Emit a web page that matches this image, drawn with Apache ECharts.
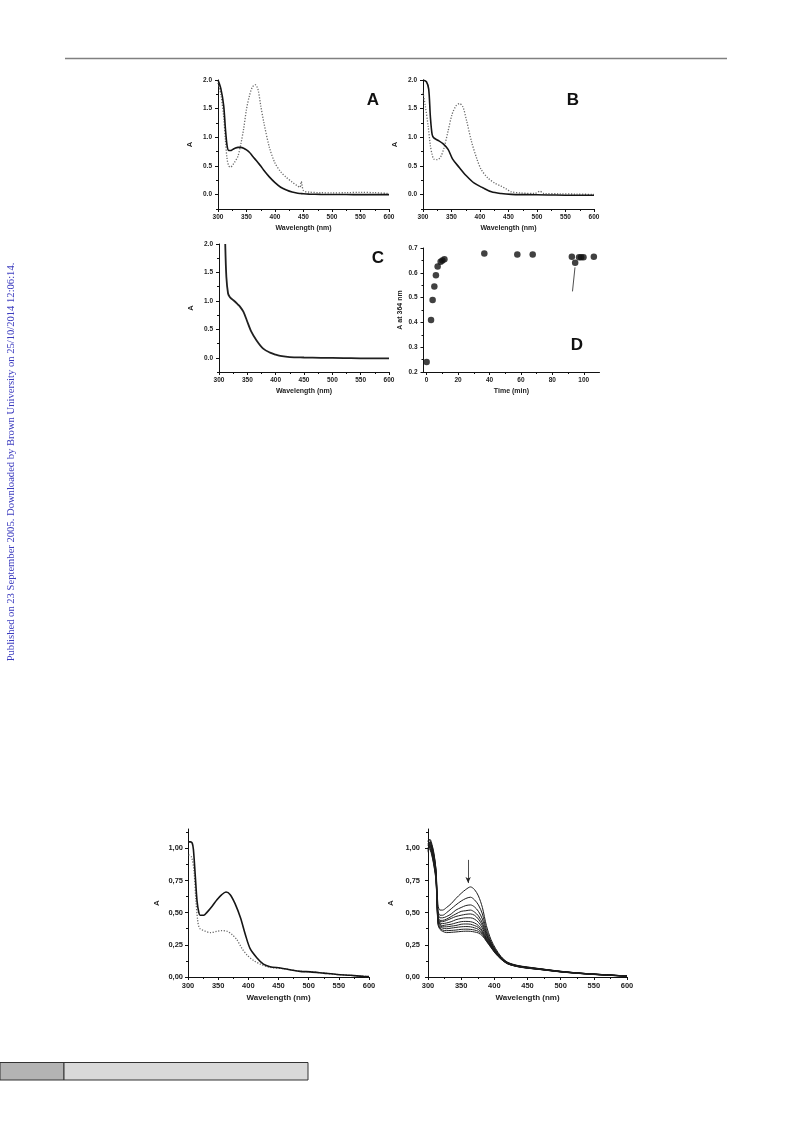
<!DOCTYPE html>
<html>
<head>
<meta charset="utf-8">
<script src="https://cdn.jsdelivr.net/npm/echarts@6/dist/echarts.min.js"></script>
<style>
html,body{margin:0;padding:0;background:#fff;}
#c{width:793px;height:1123px;}
</style>
</head>
<body>
<div id="c"></div>
<script>
// ---------- DATA ----------
// Panel A
const wlA = [300,305,310,313,316,319,322,326,330,335,340,345,350,355,360,365,370,375,380,390,400,410,420,430,440,445,450,460,480,500,525,550,575,600];
const aSolid = [2.00,1.85,1.55,1.15,0.85,0.77,0.77,0.79,0.81,0.825,0.825,0.81,0.78,0.74,0.68,0.62,0.56,0.50,0.43,0.31,0.21,0.13,0.08,0.045,0.025,0.02,0.015,0.01,0.005,0.003,0.002,0.0,0.0,0.0];
const wlAd = [300,305,310,313,316,319,322,326,330,335,340,345,350,355,360,365,370,375,380,390,400,410,420,430,440,444,446,450,460,480,500,525,550,575,600];
const aDotted = [1.95,1.75,1.35,0.95,0.62,0.50,0.48,0.52,0.58,0.67,0.88,1.15,1.49,1.72,1.87,1.92,1.84,1.55,1.28,0.83,0.55,0.40,0.30,0.22,0.15,0.13,0.23,0.07,0.045,0.035,0.03,0.035,0.04,0.035,0.02];
// Panel B
const wlB = [300,306,310,313,316,319,326,335,344,352,364,376,390,405,420,437,455,480,520,560,600];
const bSolid = [2.0,1.97,1.84,1.35,1.05,0.99,0.95,0.89,0.79,0.62,0.47,0.33,0.20,0.12,0.05,0.02,0.005,0.0,-0.005,-0.01,-0.01];
const wlBd = [300,304,309,313,316,319,325,331,337,344,351,358,364,370,376,385,394,402,414,426,437,446,455,472,496,505,512,540,570,600];
const bDotted = [1.78,1.55,1.20,0.85,0.70,0.62,0.61,0.66,0.82,1.11,1.40,1.55,1.59,1.53,1.31,0.93,0.64,0.44,0.29,0.20,0.15,0.10,0.05,0.03,0.02,0.06,0.02,0.015,0.01,0.005];
// Panel C
const wlC = [311,313,316,319,323,328,333,337,343,349,357,366,378,390,400,408,425,450,480,520,560,600];
const cSolid = [2.0,1.42,1.13,1.07,1.03,0.99,0.94,0.90,0.81,0.66,0.46,0.31,0.16,0.09,0.055,0.035,0.012,0.005,0.0,-0.005,-0.01,-0.01];
// Panel D
const dTime = [0,2.8,3.8,4.9,5.9,7.0,8.9,10,11.3,36.7,57.7,67.5,92.4,94.5,97,98.3,99.8,106.4];
const dAbs = [0.24,0.41,0.49,0.545,0.59,0.625,0.645,0.65,0.655,0.678,0.674,0.674,0.665,0.641,0.663,0.663,0.663,0.665];
// Panel E (bottom left)
const wlE = [300,304,307,309,312,315,318,320,326,331,340,348,356,363,370,378,387,395,403,414,425,436,453,469,486,503,525,547,569,591,600];
const eSolid = [1.05,1.05,1.04,0.99,0.79,0.59,0.50,0.48,0.48,0.50,0.55,0.60,0.64,0.66,0.64,0.57,0.46,0.33,0.22,0.15,0.10,0.08,0.07,0.057,0.044,0.04,0.03,0.02,0.013,0.005,0.003];
const wlEd = [301,306,310,313,316,318,320,329,337,348,356,365,373,381,389,398,409,420,436,458,486,503,525,547,569,591,600];
const eDotted = [0.95,0.93,0.82,0.60,0.44,0.39,0.375,0.355,0.345,0.355,0.36,0.355,0.33,0.29,0.225,0.17,0.127,0.10,0.075,0.065,0.044,0.04,0.03,0.02,0.013,0.005,0.003];
// Panel F (bottom right, time series of spectra)
const wlF = [300,303,306,309,312,315,318,322,328,335,342,350,357,364,370,376,382,388,395,402,410,420,435,450,470,500,530,560,600];
const f1 = [1.03,1.05,1.02,0.95,0.84,0.56,0.52,0.52,0.54,0.57,0.61,0.65,0.68,0.70,0.68,0.63,0.54,0.40,0.29,0.22,0.16,0.115,0.09,0.078,0.064,0.045,0.03,0.02,0.008];
const f2 = [1.05,1.07,1.03,0.96,0.83,0.52,0.48,0.48,0.50,0.53,0.56,0.59,0.61,0.62,0.60,0.56,0.49,0.37,0.275,0.21,0.155,0.113,0.088,0.076,0.063,0.044,0.03,0.02,0.008];
const f3 = [1.00,1.04,1.00,0.94,0.82,0.50,0.46,0.46,0.47,0.49,0.52,0.54,0.555,0.56,0.545,0.51,0.45,0.35,0.265,0.205,0.152,0.111,0.087,0.075,0.062,0.043,0.03,0.02,0.008];
const f4 = [1.08,1.06,1.01,0.93,0.81,0.48,0.44,0.44,0.45,0.47,0.49,0.51,0.515,0.52,0.505,0.475,0.42,0.335,0.258,0.20,0.15,0.11,0.086,0.074,0.062,0.043,0.029,0.019,0.008];
const f5 = [0.98,1.03,0.99,0.92,0.80,0.47,0.43,0.43,0.44,0.455,0.47,0.48,0.487,0.49,0.48,0.45,0.40,0.325,0.252,0.197,0.148,0.108,0.085,0.073,0.061,0.042,0.029,0.019,0.007];
const f6 = [1.06,1.02,1.00,0.91,0.80,0.46,0.42,0.415,0.42,0.43,0.445,0.455,0.46,0.46,0.45,0.425,0.38,0.312,0.246,0.194,0.146,0.107,0.084,0.072,0.060,0.042,0.028,0.018,0.007];
const f7 = [1.02,1.05,0.98,0.90,0.79,0.45,0.41,0.40,0.405,0.41,0.42,0.43,0.432,0.43,0.42,0.40,0.36,0.302,0.242,0.19,0.144,0.106,0.083,0.071,0.060,0.041,0.028,0.018,0.007];
const f8 = [0.99,1.01,0.97,0.89,0.78,0.44,0.40,0.39,0.39,0.395,0.40,0.41,0.412,0.41,0.40,0.385,0.35,0.294,0.238,0.188,0.143,0.105,0.082,0.070,0.059,0.041,0.028,0.018,0.007];
const f9 = [1.04,1.00,0.96,0.88,0.77,0.43,0.39,0.38,0.375,0.38,0.385,0.39,0.392,0.39,0.382,0.37,0.34,0.288,0.234,0.185,0.142,0.104,0.082,0.070,0.058,0.040,0.027,0.017,0.006];
const f10 = [0.97,1.02,0.95,0.87,0.76,0.42,0.38,0.365,0.36,0.362,0.365,0.37,0.372,0.37,0.365,0.355,0.33,0.283,0.231,0.183,0.140,0.103,0.081,0.069,0.058,0.040,0.027,0.017,0.006];
const f11 = [1.00,0.99,0.94,0.86,0.75,0.41,0.37,0.355,0.345,0.347,0.35,0.354,0.356,0.355,0.35,0.342,0.32,0.278,0.228,0.180,0.138,0.102,0.080,0.068,0.057,0.039,0.026,0.016,0.006];

// tick values
const wlMajor = [300,350,400,450,500,550,600];
const wlMinor = [325,375,425,475,525,575];
const absMajorTop = [0,0.5,1,1.5,2];
const absMinorTop = [-0.25,0.25,0.75,1.25,1.75];
const timeMajor = [0,20,40,60,80,100];
const timeMinor = [10,30,50,70,90];
const dYMajor = [0.2,0.3,0.4,0.5,0.6,0.7];
const dYMinor = [0.25,0.35,0.45,0.55,0.65];
const absMajorBot = [0,0.25,0.5,0.75,1.0];
const absMinorBot = [0.125,0.375,0.625,0.875,1.125];

// ---------- BUILD ----------
const FONT = '"Liberation Sans", Arial, sans-serif';
const grids = [], xAxes = [], yAxes = [], series = [];

function mkAxis(kind, gi, s) {
  const main = {
    type: 'value', gridIndex: gi, min: s.min, max: s.max,
    position: kind === 'x' ? 'bottom' : 'left',
    axisLine: {show: true, onZero: false, lineStyle: {color: '#111', width: 1}},
    axisTick: {show: true, length: 3, inside: false, customValues: s.major, lineStyle: {color: '#111', width: 1}},
    axisLabel: {show: true, customValues: s.major, formatter: s.fmt, margin: s.margin,
      fontSize: s.fs, fontFamily: FONT, fontWeight: 'bold', color: '#222'},
    splitLine: {show: false},
    name: s.name, nameLocation: 'middle', nameGap: s.gap, nameRotate: kind === 'y' ? 90 : 0,
    nameTextStyle: {fontSize: s.nfs, fontFamily: FONT, fontWeight: 'bold', color: '#222'}
  };
  const minor = {
    type: 'value', gridIndex: gi, min: s.min, max: s.max,
    position: kind === 'x' ? 'bottom' : 'left',
    axisLine: {show: false, onZero: false},
    axisTick: {show: true, length: 2, customValues: s.minor, lineStyle: {color: '#111', width: 1}},
    axisLabel: {show: false},
    splitLine: {show: false}
  };
  return [main, minor];
}

function panel(g, xs, ys) {
  const gi = grids.length;
  grids.push(Object.assign({containLabel: false, outerBoundsMode: 'none', show: false}, g));
  const xi = xAxes.length, yi = yAxes.length;
  xAxes.push(...mkAxis('x', gi, xs));
  yAxes.push(...mkAxis('y', gi, ys));
  return {xi, yi};
}

function zip(xs, ys) { return xs.map((x, i) => [x, ys[i]]); }

function solid(ax, xs, ys, w, color) {
  series.push({type: 'line', xAxisIndex: ax.xi, yAxisIndex: ax.yi, data: zip(xs, ys),
    showSymbol: false, smooth: 0.3, lineStyle: {color: color || '#151515', width: w || 1.5},
    silent: true, animation: false, z: 3});
}
function dotted(ax, xs, ys) {
  series.push({type: 'line', xAxisIndex: ax.xi, yAxisIndex: ax.yi, data: zip(xs, ys),
    showSymbol: false, smooth: 0.3, lineStyle: {color: '#6a6a6a', width: 1.3, type: [1.2, 1.6]},
    silent: true, animation: false, z: 2});
}

const fmt1 = v => v.toFixed(1);
const fmtC = v => v.toFixed(2).replace('.', ',');
const fmtI = v => String(Math.round(v));

const smallX = (name) => ({min: 300, max: 600, major: wlMajor, minor: wlMinor, fmt: fmtI, margin: 5, fs: 6.5, name: name, gap: 16, nfs: 7});
const topY = {min: -0.25, max: 2.0, major: absMajorTop, minor: absMinorTop, fmt: fmt1, margin: 6, fs: 6.5, name: 'A', gap: 24, nfs: 7.5};

// A
const pA = panel({left: 218, top: 80, width: 171, height: 129}, smallX('Wavelength (nm)'), topY);
dotted(pA, wlAd, aDotted);
solid(pA, wlA, aSolid, 1.6);
// B
const pB = panel({left: 423, top: 80, width: 171, height: 129}, smallX('Wavelength (nm)'), Object.assign({}, topY, {gap: 24}));
dotted(pB, wlBd, bDotted);
solid(pB, wlB, bSolid, 1.6);
// C
const pC = panel({left: 219, top: 244, width: 170, height: 128}, smallX('Wavelength (nm)'), topY);
solid(pC, wlC, cSolid, 1.8, '#202020');
// D
const pD = panel({left: 423.5, top: 248, width: 176, height: 124},
  {min: -2, max: 110, major: timeMajor, minor: timeMinor, fmt: fmtI, margin: 5, fs: 6.5, name: 'Time (min)', gap: 16, nfs: 7},
  {min: 0.2, max: 0.7, major: dYMajor, minor: dYMinor, fmt: fmt1, margin: 6, fs: 6.5, name: 'A at 364 nm', gap: 20, nfs: 7});
series.push({type: 'scatter', xAxisIndex: pD.xi, yAxisIndex: pD.yi, data: zip(dTime, dAbs),
  symbol: 'circle', symbolSize: 6.5, itemStyle: {color: '#111'}, silent: true, animation: false,
  markLine: {silent: true, symbol: ['none', 'none'], animation: false, label: {show: false},
    lineStyle: {color: '#222', width: 0.8, type: 'solid'},
    data: [[{coord: [92.8, 0.525]}, {coord: [94.4, 0.622]}]]}});
// E
const botY = (gap, margin) => ({min: 0, max: 1.15, major: absMajorBot, minor: absMinorBot, fmt: fmtC, margin: margin, fs: 7.5, name: 'A', gap: gap, nfs: 8});
const pE = panel({left: 188, top: 829, width: 181, height: 148},
  {min: 300, max: 600, major: wlMajor, minor: wlMinor, fmt: fmtI, margin: 5, fs: 7.5, name: 'Wavelength (nm)', gap: 17, nfs: 8}, botY(27, 5));
dotted(pE, wlEd, eDotted);
solid(pE, wlE, eSolid, 1.6);
// F
const pF = panel({left: 428, top: 829, width: 199, height: 148},
  {min: 300, max: 600, major: wlMajor, minor: wlMinor, fmt: fmtI, margin: 5, fs: 7.5, name: 'Wavelength (nm)', gap: 17, nfs: 8}, botY(33, 8));
[f1, f2, f3, f4, f5, f6, f7, f8, f9, f10, f11].forEach(arr => solid(pF, wlF, arr, 1, '#1e1e1e'));
series.push({type: 'line', xAxisIndex: pF.xi, yAxisIndex: pF.yi, data: [], showSymbol: false, animation: false,
  markLine: {silent: true, symbol: ['none', 'arrow'], symbolSize: [4, 6], animation: false, label: {show: false},
    lineStyle: {color: '#222', width: 0.8, type: 'solid'},
    data: [[{coord: [360.5, 0.91]}, {coord: [360.5, 0.73]}]]}});

const letter = (t, x, y) => ({type: 'text', x: x, y: y, silent: true,
  style: {text: t, fontSize: 17, fontWeight: 'bold', fontFamily: FONT, fill: '#111', textAlign: 'center', textVerticalAlign: 'middle', verticalAlign: 'middle'}});

const option = {
  animation: false,
  backgroundColor: '#fff',
  grid: grids, xAxis: xAxes, yAxis: yAxes, series: series,
  graphic: [
    {type: 'line', silent: true, shape: {x1: 65, y1: 58.5, x2: 727, y2: 58.5}, style: {stroke: '#808080', lineWidth: 1.5}},
    {type: 'rect', silent: true, shape: {x: 0, y: 1062.5, width: 64, height: 17.5}, style: {fill: '#b3b3b3', stroke: '#333', lineWidth: 1}},
    {type: 'rect', silent: true, shape: {x: 64, y: 1062.5, width: 244, height: 17.5}, style: {fill: '#d9d9d9', stroke: '#333', lineWidth: 1}},
    {type: 'text', silent: true, x: 11, y: 462, rotation: Math.PI / 2,
      style: {text: 'Published on 23 September 2005. Downloaded by Brown University on 25/10/2014 12:06:14.',
        fontSize: 10.6, fontFamily: '"Liberation Serif", "Times New Roman", serif', fill: '#3c3cbf',
        textAlign: 'center', textVerticalAlign: 'middle', verticalAlign: 'middle'}},
    letter('A', 373, 100),
    letter('B', 573, 100),
    letter('C', 378, 258),
    letter('D', 577, 345)
  ]
};

const chart = echarts.init(document.getElementById('c'), null, {renderer: 'canvas', width: 793, height: 1123});
chart.setOption(option);
</script>
</body>
</html>
